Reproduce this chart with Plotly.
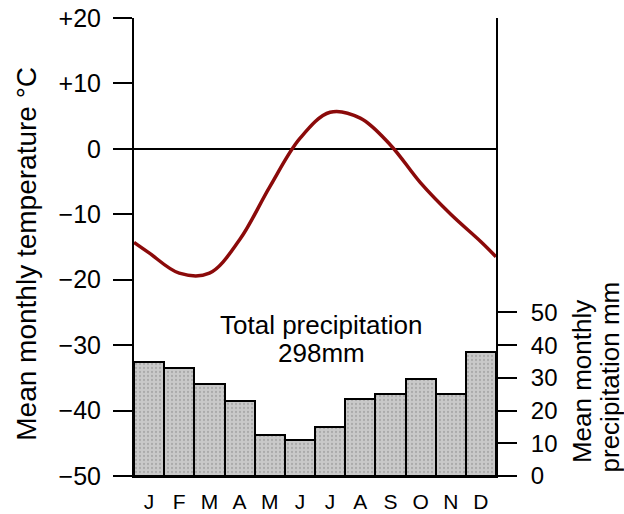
import plotly.graph_objects as go

months = ["J", "F", "M", "A", "M", "J", "J", "A", "S", "O", "N", "D"]
month_pos = [1, 2, 3, 4, 5, 6, 7, 8, 9, 10, 11, 12]
precip_mm = [35, 33, 28, 23, 12.5, 11, 15, 23.5, 25, 29.5, 25, 38]
temp_c = [-15.9, -19.0, -19.0, -13.9, -5.8, 1.6, 5.6, 4.7, 0.6, -5.2, -10.0, -14.2]
temp_edge_pos = [0.5, 12.5]
temp_edge_c = [-14.3, -16.5]
temp_ticks = [20, 10, 0, -10, -20, -30, -40, -50]
temp_tick_labels = ["+20", "+10", "0", "\u221210", "\u221220", "\u221230", "\u221240", "\u221250"]
precip_ticks = [0, 10, 20, 30, 40, 50]
precip_tick_labels = ["0", "10", "20", "30", "40", "50"]
total_label_1 = "Total precipitation"
total_label_2 = "298mm"
left_title = "Mean monthly temperature \u00b0C"
right_title_1 = "Mean monthly"
right_title_2 = "precipitation mm"

FONT = "Liberation Sans, Arial, sans-serif"

line_x = [temp_edge_pos[0]] + month_pos + [temp_edge_pos[1]]
line_y = [temp_edge_c[0]] + temp_c + [temp_edge_c[1]]

fig = go.Figure()
fig.add_trace(go.Bar(
    x=month_pos, y=precip_mm, yaxis="y2", width=1,
    marker=dict(color="#c6c6c6", line=dict(color="black", width=2),
                pattern=dict(shape=".", fgcolor="#8c8c8c", bgcolor="#c9c9c9", size=4, solidity=0.25)),
    showlegend=False, hoverinfo="skip",
))
fig.add_trace(go.Scatter(
    x=line_x, y=line_y, mode="lines",
    line=dict(color="#8b0a0a", width=3.5, shape="spline", smoothing=1.0),
    showlegend=False, hoverinfo="skip",
))

fig.update_layout(
    width=624, height=514,
    margin=dict(l=134, r=128, t=18, b=38),
    paper_bgcolor="white", plot_bgcolor="white",
    font=dict(family=FONT, color="black", size=24),
    bargap=0,
    xaxis=dict(range=[0.5, 12.5], tickvals=month_pos, ticktext=months, automargin=False,
               showline=True, linecolor="black", linewidth=2, ticks="",
               showgrid=False, zeroline=False, tickfont=dict(size=21), ticklabelstandoff=6),
    yaxis=dict(range=[-50, 20], tickvals=temp_ticks, ticktext=temp_tick_labels, automargin=False,
               showline=True, linecolor="black", linewidth=2, ticks="outside",
               ticklen=19, tickwidth=2, tickcolor="black", showgrid=False,
               zeroline=True, zerolinecolor="black", zerolinewidth=2,
               tickfont=dict(size=25), ticklabelstandoff=7),
    yaxis2=dict(range=[0, 140], overlaying="y", side="right", automargin=False,
                tickvals=precip_ticks, ticktext=precip_tick_labels,
                showline=True, linecolor="black", linewidth=2, ticks="outside",
                ticklen=19, tickwidth=2, tickcolor="black", showgrid=False,
                zeroline=False, tickfont=dict(size=24), ticklabelstandoff=9),
    annotations=[
        dict(text=left_title, textangle=-90, xref="paper", yref="paper",
             x=-0.296, y=0.485, showarrow=False, font=dict(size=28), xanchor="center", yanchor="middle"),
        dict(text=right_title_1, textangle=-90, xref="paper", yref="paper",
             x=1.2376, y=0.205, showarrow=False, font=dict(size=26), xanchor="center", yanchor="middle"),
        dict(text=right_title_2, textangle=-90, xref="paper", yref="paper",
             x=1.316, y=0.216, showarrow=False, font=dict(size=26), xanchor="center", yanchor="middle"),
        dict(text=total_label_1, xref="x", yref="y", x=6.71, y=-26.9, showarrow=False,
             font=dict(size=26), xanchor="center", yanchor="middle"),
        dict(text=total_label_2, xref="x", yref="y", x=6.7, y=-31.2, showarrow=False,
             font=dict(size=26), xanchor="center", yanchor="middle"),
    ],
)

fig.write_html("out.html", config={"displayModeBar": False},
               post_script="document.body.style.margin='0';document.body.style.overflow='hidden';")
